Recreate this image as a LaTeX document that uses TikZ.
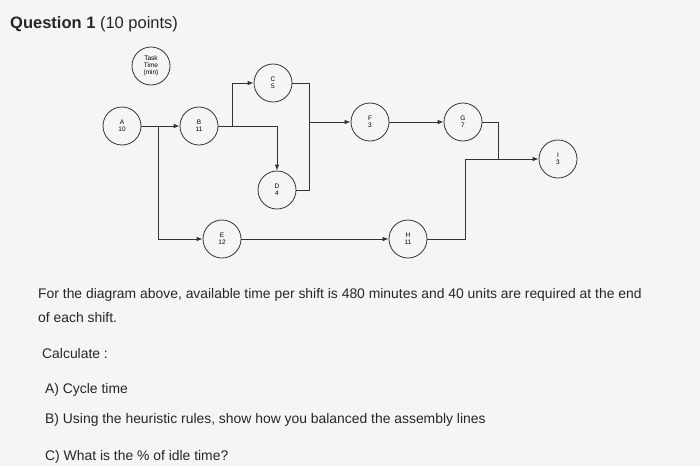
\documentclass[tikz,border=0pt]{standalone}
\usepackage{fontspec}
\setmainfont{Liberation Sans}
\usetikzlibrary{arrows.meta}
\begin{document}
\begin{tikzpicture}[x=1pt,y=-1pt,
  task/.style={circle,draw=black!80,line width=0.8pt,minimum size=38pt,inner sep=0pt,align=center,font=\fontsize{6.5}{7}\selectfont},
  link/.style={draw=black!80,line width=0.8pt},
  arr/.style={link,-{Latex[length=6pt,width=4.5pt]}},
  txt/.style={anchor=base west,inner sep=0pt,font=\fontsize{13.9}{16}\selectfont,text=black!85}]
\fill[black!4] (0,0) rectangle (700,466);
\useasboundingbox (0,0) rectangle (700,466);
\node[txt,font=\fontsize{16.5}{19}\selectfont] (title) at (10,28) {\textbf{Question 1} (10 points)};
\node[task] (T) at (151,66) {Task\\Time\\(min)};
\node[task] (A) at (122,126) {A\\10};
\node[task] (B) at (199,126) {B\\11};
\node[task] (C) at (273,83) {C\\5};
\node[task] (D) at (277,190) {D\\4};
\node[task] (E) at (222,239) {E\\12};
\node[task] (F) at (370,122) {F\\3};
\node[task] (G) at (463,122) {G\\7};
\node[task] (H) at (408,239) {H\\11};
\node[task] (I) at (558,159) {I\\3};
\coordinate (a1) at (158,126);
\coordinate (b1) at (232,126);
\coordinate (cd) at (309,122);
\coordinate (gi) at (498,159);
\draw[arr] (A.east) -- (B.west);
\draw[arr] (a1) |- (E.west);
\draw[arr] (b1) |- (C.west);
\draw[arr] (B.east) -| (D.north);
\draw[link] (C.east) -| (cd);
\draw[link] (D.east) -| (cd);
\draw[arr] (cd) -- (F.west);
\draw[arr] (F.east) -- (G.west);
\draw[link] (G.east) -| (gi);
\draw[link] (H.east) -| (465,159) -- (gi);
\draw[arr] (gi) -- (I.west);
\draw[arr] (E.east) -- (H.west);
\node[txt] (p1) at (38,298) {For the diagram above, available time per shift is 480 minutes and 40 units are required at the end};
\node[txt] (p2) at (38,322) {of each shift.};
\node[txt] (c0) at (42,358) {Calculate :};
\node[txt] (qa) at (45,393) {A) Cycle time};
\node[txt] (qb) at (45,423) {B) Using the heuristic rules, show how you balanced the assembly lines};
\node[txt] (qc) at (45,460) {C) What is the \% of idle time?};
\end{tikzpicture}
\end{document}
